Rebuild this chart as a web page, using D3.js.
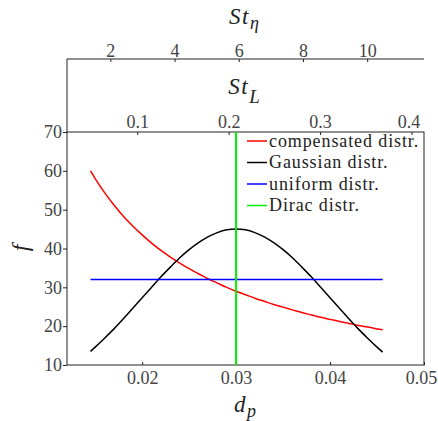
<!DOCTYPE html>
<html><head><meta charset="utf-8">
<script src="https://cdn.jsdelivr.net/npm/d3@7"></script>
<style>
body{margin:0;background:#fff;}
svg{display:block;}
</style></head>
<body><svg id="c" width="438" height="421"></svg>
<script>
// ---- data ----
const dp = [0.0145,0.015,0.016,0.017,0.018,0.019,0.020,0.021,0.022,0.023,0.024,0.025,0.026,0.027,0.028,0.029,0.030,
            0.031,0.032,0.033,0.034,0.035,0.036,0.037,0.038,0.039,0.040,0.041,0.042,0.043,0.044,0.045,0.0456];
const compensated = [60.0,58.0,54.4,51.2,48.3,45.8,43.5,41.4,39.5,37.8,36.25,34.8,33.5,32.2,31.1,30.0,29.0,
            28.1,27.2,26.4,25.6,24.9,24.2,23.5,22.9,22.3,21.75,21.2,20.7,20.2,19.8,19.3,19.1];
const gaussian = [13.5,14.6,16.9,19.3,21.9,24.6,27.3,30.0,32.7,35.2,37.6,39.7,41.5,43.0,44.1,44.8,45.0,
            44.8,44.1,43.0,41.5,39.7,37.6,35.2,32.7,30.0,27.3,24.6,21.9,19.3,16.9,14.6,13.3];
const uniform = [32,32];
const uniformDp = [0.0145,0.0456];
const diracDp = 0.03;
const seriesNames = ["compensated distr.","Gaussian distr.","uniform distr.","Dirac distr."];
const seriesColors = ["#ff0000","#000000","#0000ff","#00ee00"];
const xTicks = [0.02,0.03,0.04,0.05];
const yTicks = [10,20,30,40,50,60,70];
const stLTicks = [0.1,0.2,0.3,0.4];
const stEtaTicks = [2,4,6,8,10];

// ---- layout ----
const FONT = "'Liberation Serif'";
const L=67, R=424, T=132, B=365, TT=59;
const svg = d3.select("#c");
const x = d3.scaleLinear().domain([0.012,0.05]).range([L,R]);
const y = d3.scaleLinear().domain([10,70]).range([B,T]);
const xL = d3.scaleLinear().domain([0.0232,0.4137]).range([L,R]);
const xE = d3.scaleLinear().domain([0.65,11.77]).range([L,R]);

const axisColor="#222", labelColor="#444";
function styleAxis(g){
  g.attr("font-family",null).attr("font-size",null);
  g.select(".domain").remove();
  g.selectAll(".tick line").attr("stroke",axisColor);
  g.selectAll(".tick text").attr("fill",labelColor).style("font-size","18px")
   .style("font-family",FONT);
}
// bottom
const gb = svg.append("g").attr("transform",`translate(0,${B})`)
  .call(d3.axisBottom(x).tickValues(xTicks).tickFormat(d3.format(".2f")).tickSize(-3).tickPadding(6)).call(styleAxis);
gb.selectAll(".tick text").filter(d=>d===0.05).attr("dx",-3);
// left
svg.append("g").attr("transform",`translate(${L},0)`)
  .call(d3.axisLeft(y).tickValues(yTicks).tickFormat(d3.format("d")).tickSize(4).tickPadding(1)).call(styleAxis);
// top St_L
const gl = svg.append("g").attr("transform",`translate(0,${T})`)
  .call(d3.axisTop(xL).tickValues(stLTicks).tickFormat(d3.format(".1f")).tickSize(-3).tickPadding(4)).call(styleAxis);
gl.selectAll(".tick text").filter(d=>d===0.4).attr("dx",-3);
// top St_eta
svg.append("g").attr("transform",`translate(0,${TT})`)
  .call(d3.axisTop(xE).tickValues(stEtaTicks).tickFormat(d3.format("d")).tickSize(-3).tickPadding(2)).call(styleAxis);

// frames
svg.append("rect").attr("x",L).attr("y",T).attr("width",R-L).attr("height",B-T)
  .attr("fill","none").attr("stroke",axisColor).attr("stroke-width",1);
svg.append("path").attr("d",`M${L},${T}V${TT}H${R}`).attr("fill","none").attr("stroke",axisColor).attr("stroke-width",1);

// lines
const line = d3.line().x(d=>x(d[0])).y(d=>y(d[1])).curve(d3.curveMonotoneX);
const plot = svg.append("g");
plot.append("path").datum(dp.map((d,i)=>[d,compensated[i]])).attr("d",line)
  .attr("fill","none").attr("stroke",seriesColors[0]).attr("stroke-width",1.5);
plot.append("path").datum(dp.map((d,i)=>[d,gaussian[i]])).attr("d",line)
  .attr("fill","none").attr("stroke",seriesColors[1]).attr("stroke-width",1.5);
plot.append("path").datum(uniformDp.map((d,i)=>[d,uniform[i]])).attr("d",line)
  .attr("fill","none").attr("stroke",seriesColors[2]).attr("stroke-width",1.5);
plot.append("line").attr("x1",x(diracDp)).attr("x2",x(diracDp)).attr("y1",T).attr("y2",B)
  .attr("stroke",seriesColors[3]).attr("stroke-width",2);

// legend
const lg = svg.append("g");
seriesNames.forEach((n,i)=>{
  const yy = 141 + i*21.5;
  lg.append("line").attr("x1",247).attr("x2",267).attr("y1",yy).attr("y2",yy)
    .attr("stroke",seriesColors[i]).attr("stroke-width",1.5);
  lg.append("text").attr("x",269).attr("y",yy+5.5).style("font-size","18px").attr("fill","#222")
    .style("font-family",FONT).attr("letter-spacing",0.9).text(n);
});

// axis labels
function mathLabel(cx, cy, main, sub, subSize, subDy){
  const t = svg.append("text").attr("x",cx).attr("y",cy).attr("fill","#222")
    .attr("text-anchor","middle").style("font-family",FONT);
  t.append("tspan").style("font-style","italic").style("font-size","23px").attr("letter-spacing",1.5).text(main);
  t.append("tspan").style("font-style","italic").style("font-size",subSize+"px").attr("dy",subDy).text(sub);
  return t;
}
mathLabel(244,24,"St","η",18,5);
mathLabel(244,94,"St","L",19,9);
mathLabel(245,412,"d","p",18,5);
svg.append("text").attr("transform","translate(28,248) rotate(-90)").attr("text-anchor","middle")
  .style("font-family",FONT).style("font-style","italic").style("font-size","24px").attr("fill","#222").text("f");
</script></body></html>
